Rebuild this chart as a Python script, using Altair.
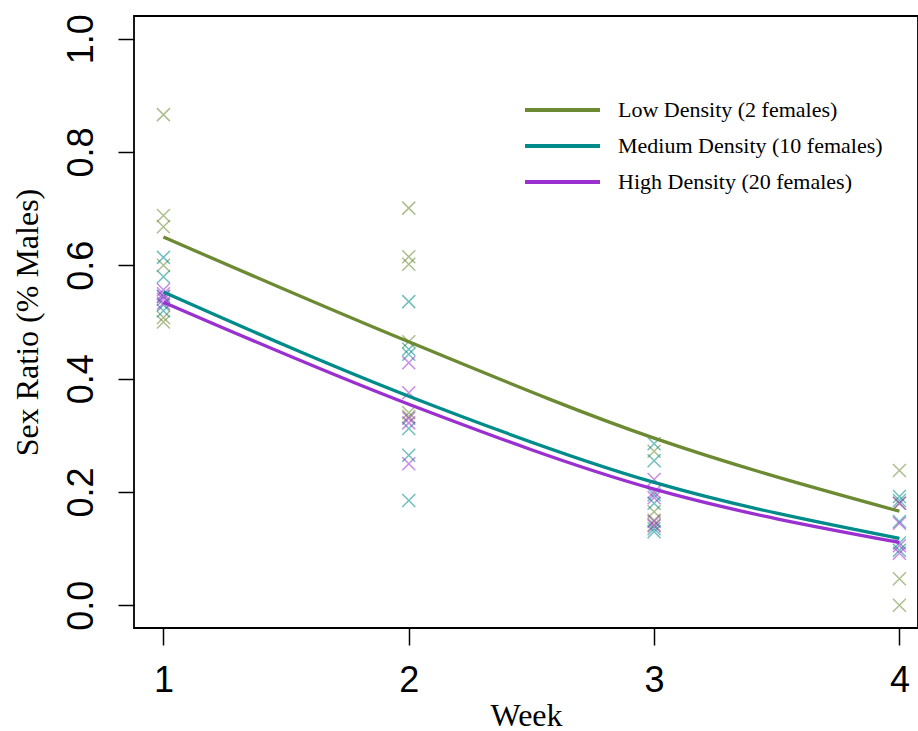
import altair as alt
import pandas as pd

groups = ["Low Density (2 females)", "Medium Density (10 females)", "High Density (20 females)"]
colors = ["#6B8A32", "#008B8B", "#9B30D0"]
weeks = [1, 2, 3, 4]

# observed sex ratios per week, per group
low_obs = {1: [0.866, 0.688, 0.668, 0.600, 0.508, 0.500],
           2: [0.701, 0.615, 0.602, 0.465, 0.340, 0.333],
           3: [0.272, 0.165, 0.150, 0.142],
           4: [0.238, 0.180, 0.047, 0.000]}
med_obs = {1: [0.614, 0.580, 0.545, 0.530, 0.520],
           2: [0.536, 0.452, 0.443, 0.312, 0.265, 0.185],
           3: [0.285, 0.255, 0.195, 0.180, 0.135, 0.130],
           4: [0.192, 0.185, 0.148, 0.110, 0.097]}
high_obs = {1: [0.557, 0.550, 0.545, 0.540, 0.533],
            2: [0.428, 0.375, 0.330, 0.322, 0.250],
            3: [0.222, 0.200, 0.190, 0.148, 0.140],
            4: [0.180, 0.145, 0.105, 0.092]}

# fitted curves read at each week
low_fit = [0.650, 0.465, 0.295, 0.166]
med_fit = [0.553, 0.369, 0.217, 0.118]
high_fit = [0.535, 0.355, 0.205, 0.111]

obs_rows = []
for g, obs in zip(groups, [low_obs, med_obs, high_obs]):
    for w, vals in obs.items():
        for v in vals:
            obs_rows.append({"week": w, "group": g, "ratio": v})
obs_df = pd.DataFrame(obs_rows)

fit_rows = []
for g, fit in zip(groups, [low_fit, med_fit, high_fit]):
    for w, v in zip(weeks, fit):
        fit_rows.append({"week": w, "group": g, "ratio": v})
fit_df = pd.DataFrame(fit_rows)
leg_df = pd.DataFrame({"group": groups})

xscale = alt.Scale(domain=[0.88, 4.0757], nice=False, zero=False)
yscale = alt.Scale(domain=[-0.04, 1.04], nice=False, zero=False)
cscale = alt.Scale(domain=groups, range=colors)
legscale = alt.Scale(type="point", domain=groups, range=[94, 166], padding=0)

xaxis = alt.Axis(values=weeks, title="Week", format="d", grid=False, domain=False,
                 tickSize=17, tickWidth=1.5, tickColor="black",
                 labelFont="Liberation Sans", labelFontSize=36, labelColor="black",
                 labelPadding=18, titleFont="Liberation Serif", titleFontSize=32,
                 titleFontWeight="normal", titleColor="black", titlePadding=2)
yaxis = alt.Axis(values=[0, 0.2, 0.4, 0.6, 0.8, 1.0], format=".1f", title="Sex Ratio (% Males)",
                 grid=False, domain=False, tickSize=16, tickWidth=1.5, tickColor="black",
                 labelFont="Liberation Sans", labelFontSize=36, labelColor="black",
                 labelAngle=270, labelAlign="center", labelBaseline="bottom", labelPadding=18,
                 titleFont="Liberation Serif", titleFontSize=32, titleFontWeight="normal",
                 titleColor="black", titlePadding=19)

points = alt.Chart(obs_df).mark_point(
    shape="M-1,-1L1,1M-1,1L1,-1", size=169, filled=False, strokeWidth=1.5, opacity=0.55, clip=True
).encode(
    x=alt.X("week:Q", scale=xscale, axis=xaxis),
    y=alt.Y("ratio:Q", scale=yscale, axis=yaxis),
    color=alt.Color("group:N", scale=cscale, legend=None),
)

lines = alt.Chart(fit_df).mark_line(strokeWidth=3.3, interpolate="monotone", clip=True).encode(
    x=alt.X("week:Q", scale=xscale, axis=xaxis),
    y=alt.Y("ratio:Q", scale=yscale, axis=yaxis),
    color=alt.Color("group:N", scale=cscale, legend=None),
)

leg_rule = alt.Chart(leg_df).mark_rule(strokeWidth=4).encode(
    x=alt.value(391), x2=alt.value(466),
    y=alt.Y("group:N", scale=legscale, axis=None),
    color=alt.Color("group:N", scale=cscale, legend=None),
)
leg_text = alt.Chart(leg_df).mark_text(
    align="left", baseline="middle", font="Liberation Serif", fontSize=22, color="black"
).encode(
    x=alt.value(484),
    y=alt.Y("group:N", scale=legscale, axis=None),
    text="group:N",
)

main = alt.layer(points, lines)
legend = alt.layer(leg_rule, leg_text)

chart = alt.layer(main, legend).resolve_scale(y="independent").properties(
    width=784, height=612,
    padding={"left": 134, "top": 16, "right": 0, "bottom": 103},
    autosize=alt.AutoSizeParams(type="none"),
    background="white",
).configure_view(stroke="black", strokeWidth=1.8)

chart.save("out.html", embed_options={"renderer": "svg", "actions": False})
